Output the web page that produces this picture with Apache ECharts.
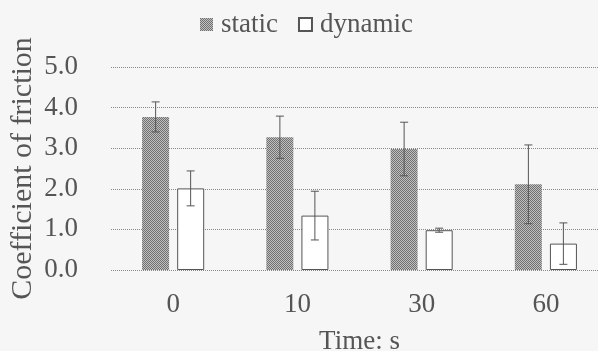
<!DOCTYPE html>
<html>
<head>
<meta charset="utf-8">
<script src="https://cdn.jsdelivr.net/npm/echarts@6/dist/echarts.min.js"></script>
<style>
  html, body { margin: 0; padding: 0; background: #f6f6f6; }
  #chart { width: 598px; height: 351px; }
</style>
</head>
<body>
<div id="chart"></div>
<script>
const categories = ['0', '10', '30', '60']
const staticValues = [3.77, 3.27, 2.98, 2.11]
const staticErrors = [0.37, 0.52, 0.66, 0.97]
const dynamicValues = [2.01, 1.34, 0.98, 0.65]
const dynamicErrors = [0.43, 0.6, 0.05, 0.51]
const yTicks = [0, 1, 2, 3, 4, 5]

// speckled gray fill like the scanned print
const pat = document.createElement('canvas')
pat.width = 2
pat.height = 2
const pctx = pat.getContext('2d')
pctx.fillStyle = '#c0c0c0'
pctx.fillRect(0, 0, 2, 2)
pctx.fillStyle = '#707070'
pctx.fillRect(0, 0, 1, 1)
pctx.fillRect(1, 1, 1, 1)

const font = '"Liberation Serif", "DejaVu Serif", serif'
const textColor = '#555'
const barWidth = 27
const offset = 17.5

function errorSeries(values, errors, dx) {
  return {
    type: 'custom',
    silent: true,
    z: 5,
    data: values.map((v, i) => [i, v - errors[i], v + errors[i]]),
    renderItem: function (params, api) {
      const lo = api.coord([api.value(0), api.value(1)])
      const hi = api.coord([api.value(0), api.value(2)])
      const x = lo[0] + dx
      const style = { stroke: '#555', lineWidth: 1 }
      return {
        type: 'group',
        children: [
          { type: 'line', shape: { x1: x, y1: lo[1], x2: x, y2: hi[1] }, style },
          { type: 'line', shape: { x1: x - 4, y1: lo[1], x2: x + 4, y2: lo[1] }, style },
          { type: 'line', shape: { x1: x - 4, y1: hi[1], x2: x + 4, y2: hi[1] }, style },
        ],
      }
    },
  }
}

const chart = echarts.init(document.getElementById('chart'))
chart.setOption({
  backgroundColor: '#f6f6f6',
  animation: false,
  legend: {
    top: 6,
    left: 195,
    itemWidth: 13,
    itemHeight: 13,
    itemGap: 20,
    icon: 'rect',
    data: ['static', 'dynamic'],
    textStyle: { fontFamily: font, fontSize: 27, color: textColor, padding: [0, 0, 0, 3] },
  },
  // plot runs a little past the right edge, as in the scan
  grid: { left: 111, right: -10, top: 67, bottom: 81, containLabel: false, outerBoundsMode: 'none' },
  xAxis: {
    type: 'category',
    data: categories,
    name: 'Time: s',
    nameLocation: 'middle',
    nameGap: 58,
    nameTextStyle: { fontFamily: font, fontSize: 27, color: textColor },
    axisLine: { show: false },
    axisTick: { show: false },
    axisLabel: { fontFamily: font, fontSize: 27, color: textColor, margin: 21 },
  },
  yAxis: {
    type: 'value',
    min: 0,
    max: 5,
    interval: 1,
    name: 'Coefficient of friction',
    nameLocation: 'middle',
    nameGap: 73,
    nameMoveOverlap: false,
    nameTextStyle: { fontFamily: font, fontSize: 30, color: textColor },
    axisLine: { show: false },
    axisTick: { show: false },
    axisLabel: {
      fontFamily: font,
      fontSize: 27,
      color: textColor,
      margin: 33,
      formatter: v => (yTicks.includes(v) ? v.toFixed(1) : ''),
    },
    splitLine: { lineStyle: { color: '#888', type: 'dotted', width: 1 } },
  },
  series: [
    {
      name: 'static',
      type: 'bar',
      barWidth: barWidth,
      barGap: '30%',
      data: staticValues,
      itemStyle: { color: { image: pat, repeat: 'repeat' } },
    },
    {
      name: 'dynamic',
      type: 'bar',
      barWidth: barWidth,
      data: dynamicValues,
      itemStyle: { color: '#ffffff', borderColor: '#555', borderWidth: 1 },
    },
    errorSeries(staticValues, staticErrors, -offset),
    errorSeries(dynamicValues, dynamicErrors, offset),
  ],
})
</script>
</body>
</html>
